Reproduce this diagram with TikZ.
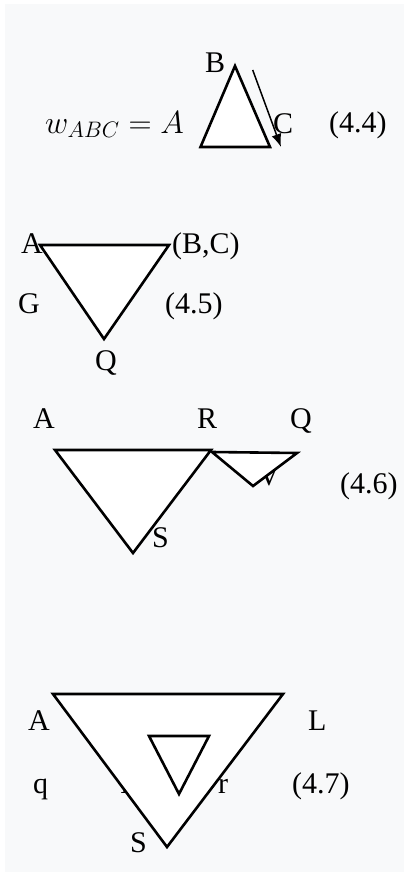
\documentclass[tikz,border=0pt]{standalone}
\usepackage{fix-cm}
\usepackage{fontspec}
\setmainfont{Liberation Serif}
\usetikzlibrary{arrows.meta}
\definecolor{pagebg}{RGB}{248,249,250}

\begin{document}
\begin{tikzpicture}[x=1pt,y=-1pt,>={Latex[length=13pt,width=10pt]},
  every node/.style={font=\fontsize{30}{34}\selectfont,inner sep=0pt,anchor=base west},
  tri/.style={draw,line width=2.6pt,fill=white}]
\useasboundingbox (0,0) rectangle (404,872);
\fill[pagebg] (5,4) rectangle (404,872);
% (4.4)
\node[font=\fontsize{32}{36}\selectfont] (wabc) at (45,133) {$w_{ABC}=A$};
\node (b1) at (205,73) {B};
\node (c1) at (273,134) {C};
\node (eq44) at (329,132) {(4.4)};
% (4.5)
\node (a2) at (21,253) {A};
\node (bc2) at (172,253) {(B,C)};
\node (g2) at (18,313) {G};
\node (eq45) at (165,313) {(4.5)};
\node (q2) at (95,370) {Q};
% (4.6)
\node (a3) at (33,428) {A};
\node (r3) at (197,428) {R};
\node (q3) at (290,428) {Q};
\node (eq46) at (340,493) {(4.6)};
\node (s3) at (152,547) {S};
\node (v3) at (258,485) {V};
% (4.7)
\node (a4) at (28,730) {A};
\node (l4) at (308,730) {L};
\node (q4) at (33,793) {q};
\node (p4) at (120,793) {P};
\node (r4) at (218,793) {r};
\node (eq47) at (292,793) {(4.7)};
\node (s4) at (130,852) {S};
% triangles
\draw[tri] (235,66) -- (270,147) -- (200.5,147) -- cycle;
\draw[tri] (40,245) -- (169,245) -- (104,339) -- cycle;
\draw[tri] (55,450) -- (211,450) -- (133,553) -- cycle;
\draw[tri] (212,452) -- (297,453) -- (253,486) -- cycle;
\draw[tri] (53,694) -- (283,694) -- (167,847) -- cycle;
\draw[tri] (149,736) -- (209,736) -- (179,794) -- cycle;
% arrow along B--C
\coordinate (arrs) at (252.7,70);
\coordinate (arre) at (281,147);
\draw[->,line width=1.5pt] (arrs) -- (arre);
\end{tikzpicture}
\end{document}
